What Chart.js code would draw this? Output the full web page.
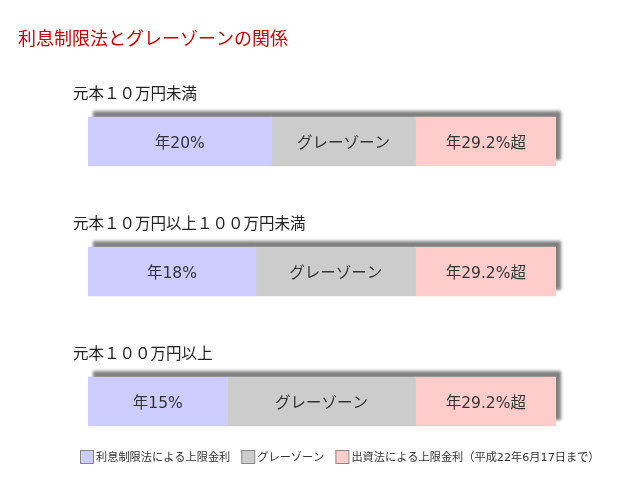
<!DOCTYPE html>
<html>
<head>
<meta charset="utf-8">
<script src="https://cdn.jsdelivr.net/npm/chart.js@4/dist/chart.umd.min.js"></script>
<style>
  body { margin: 0; background: #fff; }
</style>
</head>
<body>
<canvas id="rate-chart" width="620" height="480"></canvas>
<script>
// Chart data
const chartTitle = '利息制限法とグレーゾーンの関係';
const categories = ['元本１０万円未満', '元本１０万円以上１００万円未満', '元本１００万円以上'];
const seriesNames = ['利息制限法による上限金利', 'グレーゾーン', '出資法による上限金利（平成22年6月17日まで）'];
const limitRates = [20, 18.3, 15.2];
const grayZone = [15.7, 17.4, 20.5];
const capRates = [15.3, 15.3, 15.3];
const limitLabels = ['年20%', '年18%', '年15%'];
const grayLabels = ['グレーゾーン', 'グレーゾーン', 'グレーゾーン'];
const capLabels = ['年29.2%超', '年29.2%超', '年29.2%超'];

const FONT = '"DejaVu Sans", "Noto Sans CJK JP", sans-serif';
const colors = ['#ccccff', '#cccccc', '#ffcccc'];

// shadow behind each stacked bar (offset up/right)
const barShadow = {
  id: 'barShadow',
  beforeDatasetsDraw(chart) {
    const ctx = chart.ctx;
    const first = chart.getDatasetMeta(0).data;
    const last = chart.getDatasetMeta(chart.data.datasets.length - 1).data;
    ctx.save();
    ctx.shadowColor = '#808080';
    ctx.shadowBlur = 3;
    ctx.shadowOffsetX = 5;
    ctx.shadowOffsetY = -6;
    ctx.fillStyle = '#fff';
    first.forEach((bar, i) => {
      const p = bar.getProps(['base', 'y', 'height'], true);
      const end = last[i].getProps(['x'], true).x;
      ctx.fillRect(p.base, p.y - p.height / 2, end - p.base, p.height);
    });
    ctx.restore();
  },
};

// texts: title, category names, bar labels, legend
const chartTexts = {
  id: 'chartTexts',
  afterDatasetsDraw(chart) {
    const ctx = chart.ctx;
    const area = chart.chartArea;
    ctx.save();

    ctx.fillStyle = '#cc0000';
    ctx.font = '18px ' + FONT;
    ctx.textBaseline = 'middle';
    ctx.textAlign = 'left';
    ctx.fillText(chartTitle, 18, 40);

    // category names above bars
    ctx.fillStyle = '#222';
    ctx.font = '15.5px ' + FONT;
    chart.getDatasetMeta(0).data.forEach((bar, i) => {
      const p = bar.getProps(['y', 'height'], true);
      ctx.fillText(categories[i], area.left - 15, p.y - p.height / 2 - 22);
    });

    // labels inside segments
    ctx.fillStyle = '#333';
    ctx.font = '15.5px ' + FONT;
    ctx.textAlign = 'center';
    chart.data.datasets.forEach((ds, d) => {
      chart.getDatasetMeta(d).data.forEach((bar, i) => {
        const p = bar.getProps(['x', 'y', 'base'], true);
        ctx.fillText(ds.segmentLabels[i], (p.x + p.base) / 2, p.y + 2);
      });
    });

    // legend
    ctx.font = '11.2px ' + FONT;
    ctx.textAlign = 'left';
    let x = 80;
    const y = 457;
    chart.data.datasets.forEach((ds) => {
      ctx.fillStyle = ds.backgroundColor;
      ctx.fillRect(x + 0.5, y - 6.5, 13, 13);
      ctx.strokeStyle = '#888';
      ctx.lineWidth = 1;
      ctx.strokeRect(x + 0.5, y - 6.5, 13, 13);
      ctx.fillStyle = '#333';
      ctx.fillText(ds.label, x + 16, y + 1);
      x += 16 + ctx.measureText(ds.label).width + 11;
    });

    ctx.restore();
  },
};

const chart = new Chart(document.getElementById('rate-chart'), {
  type: 'bar',
  data: {
    labels: categories,
    datasets: [
      {
        label: seriesNames[0],
        data: limitRates,
        segmentLabels: limitLabels,
        backgroundColor: colors[0],
      },
      {
        label: seriesNames[1],
        data: grayZone,
        segmentLabels: grayLabels,
        backgroundColor: colors[1],
      },
      {
        label: seriesNames[2],
        data: capRates,
        segmentLabels: capLabels,
        backgroundColor: colors[2],
      },
    ],
  },
  options: {
    indexAxis: 'y',
    responsive: false,
    animation: false,
    barThickness: 49,
    borderWidth: 0,
    layout: {
      padding: {
        top: 76.5,
        bottom: 13.5,
        left: 88,
        right: 64,
      },
    },
    scales: {
      x: {
        stacked: true,
        display: false,
        min: 0,
        max: 51,
      },
      y: {
        stacked: true,
        display: false,
      },
    },
    plugins: {
      legend: { display: false },
      tooltip: { enabled: false },
    },
  },
  plugins: [barShadow, chartTexts],
});
</script>
</body>
</html>
